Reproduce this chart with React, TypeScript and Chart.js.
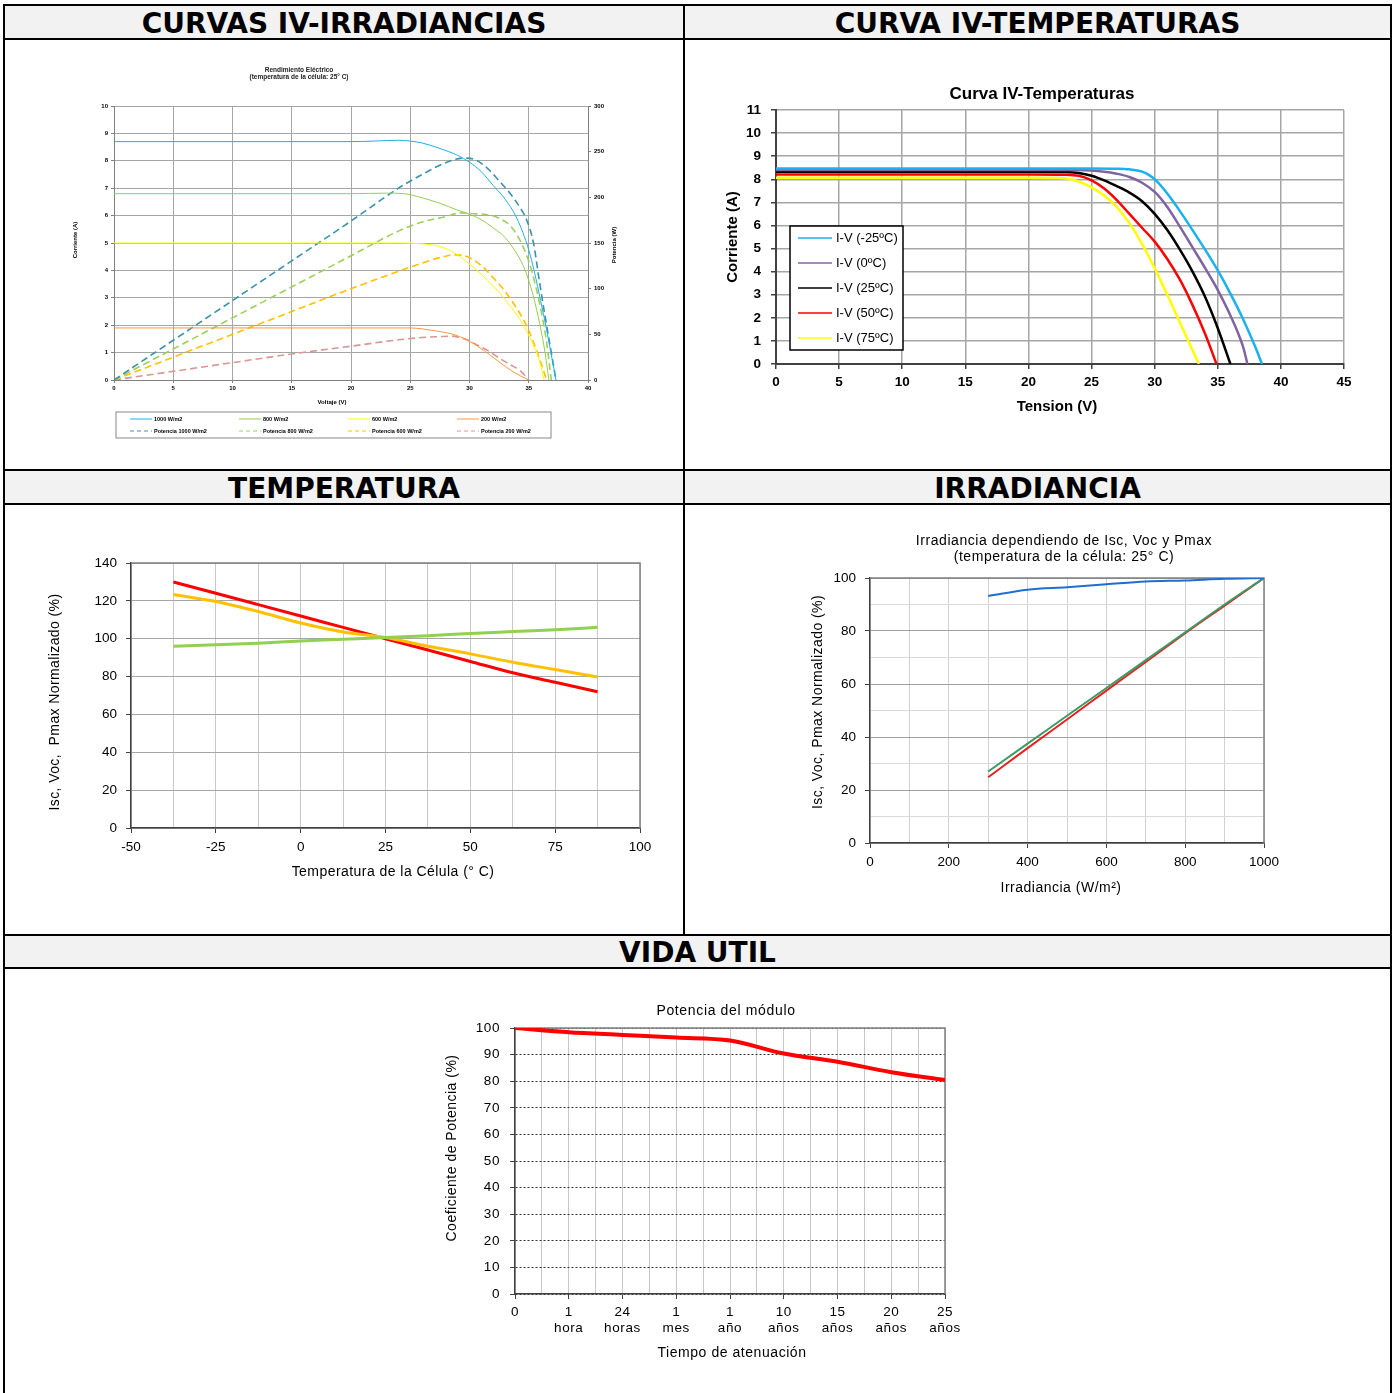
import React, { useEffect, useRef } from 'react';
import { Chart, registerables } from 'chart.js';
Chart.register(...registerables);

type P = [number, number];

// ===== Chart 1: Curvas IV-Irradiancias  (Voltaje V, Corriente A) / (Voltaje V, Potencia W)
const irrLabels = ['1000 W/m2', '800 W/m2', '600 W/m2', '200 W/m2', 'Potencia 1000 W/m2', 'Potencia 800 W/m2', 'Potencia 600 W/m2', 'Potencia 200 W/m2'];
const iv1000: P[] = [[0, 8.7], [5, 8.7], [10, 8.7], [15, 8.7], [20, 8.7], [22, 8.72], [24, 8.75], [25, 8.72], [26, 8.65], [27.5, 8.45], [29, 8.2], [30, 7.95], [31, 7.6], [32, 7.1], [33, 6.6], [34, 5.9], [35, 4.75], [35.5, 3.9], [36, 2.9], [36.5, 1.85], [37, 0.7], [37.3, 0]];
const iv800: P[] = [[0, 6.8], [10, 6.8], [20, 6.8], [23, 6.82], [24.5, 6.8], [26, 6.65], [27.5, 6.45], [29, 6.2], [30, 6.05], [31, 5.85], [32, 5.55], [33, 5.2], [34, 4.6], [34.7, 4.0], [35.3, 3.2], [35.8, 2.3], [36.3, 1.2], [36.7, 0]];
const iv600: P[] = [[0, 5], [10, 5], [20, 5], [24, 5], [26, 4.97], [27.5, 4.87], [28.5, 4.7], [29.5, 4.4], [30.5, 4.05], [31.5, 3.65], [32.5, 3.2], [33.5, 2.65], [34.5, 2.05], [35.2, 1.45], [35.9, 0.7], [36.3, 0]];
const iv200: P[] = [[0, 1.9], [10, 1.9], [20, 1.9], [25, 1.9], [27, 1.8], [28.5, 1.68], [29.8, 1.46], [30.8, 1.2], [31.7, 0.92], [32.6, 0.63], [33.5, 0.35], [34.3, 0.15], [35, 0]];
const pw1000: P[] = [[0, 0], [5, 43.5], [10, 87], [15, 130.5], [20, 174], [24, 210], [26, 225], [28, 238], [29.5, 243], [30.5, 241], [31.5, 232], [32.5, 218], [33.5, 203], [34.2, 190], [34.8, 176], [35.4, 150], [35.9, 108], [36.4, 68], [36.9, 30], [37.3, 0]];
const pw800: P[] = [[0, 0], [5, 34], [10, 68], [15, 102], [20, 136], [24, 163], [26, 173], [28, 179], [29.3, 183], [30.5, 182], [31.5, 181], [32.5, 177], [33.5, 168], [34.3, 152], [35, 130], [35.6, 102], [36.1, 72], [36.5, 42], [36.9, 0]];
const pw600: P[] = [[0, 0], [5, 25], [10, 50], [15, 75], [20, 100], [24, 119], [26, 128], [27.5, 134], [28.8, 137], [29.6, 136], [30.3, 132], [31.2, 123], [32, 112], [33, 97], [34, 78], [34.8, 60], [35.5, 38], [36, 20], [36.5, 0]];
const pw200: P[] = [[0, 0], [5, 9.5], [10, 19], [15, 28.5], [20, 37], [24, 44], [26, 46.5], [27.5, 47.5], [28.5, 48], [29.3, 46], [29.8, 44], [30.7, 38], [31.7, 31], [32.5, 24], [33.4, 17], [34.3, 10], [35, 0]];

// ===== Chart 2: Curva IV-Temperaturas (Tension V, Corriente A)
const tempLabels = ['I-V (-25ºC)', 'I-V (0ºC)', 'I-V (25ºC)', 'I-V (50ºC)', 'I-V (75ºC)'];
const ivTm25: P[] = [[0, 8.47], [10, 8.47], [20, 8.47], [25, 8.47], [27, 8.46], [28, 8.43], [29, 8.33], [29.5, 8.2], [30, 8.0], [30.5, 7.72], [31, 7.38], [32, 6.62], [33, 5.8], [34, 4.95], [35, 4.05], [36, 3.05], [37, 1.95], [38, 0.7], [38.5, 0]];
const ivT0: P[] = [[0, 8.4], [20, 8.4], [24, 8.4], [26, 8.33], [27, 8.24], [28, 8.1], [29, 7.85], [30, 7.45], [31, 6.8], [32, 5.95], [33, 5.05], [34, 4.15], [35, 3.2], [36, 2.1], [37, 0.75], [37.35, 0]];
const ivT25: P[] = [[0, 8.33], [20, 8.33], [23, 8.31], [24, 8.27], [25, 8.15], [26, 7.95], [27, 7.7], [28, 7.42], [29, 7.05], [30, 6.5], [31, 5.8], [32, 4.95], [33, 4.0], [34, 2.9], [35, 1.55], [36, 0]];
const ivT50: P[] = [[0, 8.21], [20, 8.21], [23, 8.2], [24, 8.15], [25, 7.95], [26, 7.6], [27, 7.1], [28, 6.5], [29, 5.9], [30, 5.3], [31, 4.55], [32, 3.65], [33, 2.55], [34, 1.3], [34.9, 0]];
const ivT75: P[] = [[0, 8.07], [20, 8.07], [22, 8.06], [23, 8.03], [24, 7.9], [25, 7.65], [26, 7.3], [27, 6.8], [28, 6.1], [29, 5.2], [30, 4.15], [31, 3.0], [32, 1.8], [33, 0.6], [33.5, 0]];

// ===== Chart 3: Temperatura (°C) vs Isc, Voc, Pmax normalizado (%)
const tempX = [-37.5, -25, -12.5, 0, 12.5, 25, 37.5, 50, 62.5, 75, 87.5];
const tempPmax = [130, 124, 118, 112, 106, 100, 94, 88, 82, 77, 72];
const tempVoc = [123.4, 119.7, 114.4, 108.3, 103.6, 100.6, 96, 92, 87.6, 83.7, 79.8];
const tempIsc = [96, 96.8, 97.6, 98.8, 99.7, 100.6, 101.6, 102.8, 103.8, 104.8, 106];

// ===== Chart 4: Irradiancia (W/m²) vs Isc, Voc, Pmax normalizado (%)
const irrX = [300, 400, 500, 600, 700, 800, 900, 1000];
const irrVoc = [93.2, 95.6, 96.5, 97.6, 98.7, 99.1, 99.7, 100];
const irrIsc = [27, 37.5, 48, 58.5, 69, 79.5, 90, 100];
const irrPmax = [24.8, 35.8, 46.6, 57.5, 68.3, 79.2, 89.6, 100];

// ===== Chart 5: Vida útil – Potencia del módulo (%)
const lifeLabels: (string | string[])[] = ['0', ['1', 'hora'], ['24', 'horas'], ['1', 'mes'], ['1', 'año'], ['10', 'años'], ['15', 'años'], ['20', 'años'], ['25', 'años']];
const lifeValues = [100, 98.4, 97.4, 96.4, 95.3, 90.4, 87.3, 83.4, 80.4];

const FAM = "'Liberation Sans', Arial, sans-serif";

// ---------- helpers ----------
function fitW(w: number) {
  return (s: any) => { s.width = w; s.paddingTop = 0; s.paddingBottom = 0; s.paddingLeft = 0; s.paddingRight = 0; };
}
function fitH(h: number) {
  return (s: any) => { s.height = h; s.paddingTop = 0; s.paddingBottom = 0; s.paddingLeft = 0; s.paddingRight = 0; };
}

const spacingPlugin = {
  id: 'spacing',
  beforeDraw(chart: any, _a: any, o: any) {
    if (o && o.ls) (chart.ctx as any).letterSpacing = o.ls;
  },
};

const textPlugin = {
  id: 'texts',
  afterDraw(chart: any, _a: any, opts: any) {
    const ctx = chart.ctx;
    for (const it of opts.items || []) {
      ctx.save();
      ctx.font = it.font;
      ctx.fillStyle = it.color || '#000';
      ctx.textAlign = it.align || 'center';
      ctx.textBaseline = 'middle';
      (ctx as any).letterSpacing = it.ls || '0px';
      ctx.translate(it.x, it.y);
      if (it.rot) ctx.rotate(it.rot);
      ctx.fillText(it.t, 0, 0);
      ctx.restore();
    }
  },
};

const framePlugin = {
  id: 'frame',
  beforeDatasetsDraw(chart: any, _a: any, o: any) {
    if (!o || !o.color) return;
    const { left, right, top, bottom } = chart.chartArea;
    const ctx = chart.ctx;
    ctx.save();
    ctx.strokeStyle = o.color;
    ctx.lineWidth = o.width || 1;
    ctx.beginPath();
    ctx.moveTo(left, top);
    ctx.lineTo(right, top);
    ctx.lineTo(right, bottom);
    ctx.stroke();
    ctx.restore();
  },
};

const boxLegendPlugin = {
  id: 'boxLegend',
  afterDraw(chart: any, _a: any, o: any) {
    if (!o || !o.w) return;
    const ctx = chart.ctx;
    ctx.save();
    (ctx as any).letterSpacing = '0px';
    ctx.fillStyle = '#fff';
    ctx.fillRect(o.x, o.y, o.w, o.h);
    ctx.strokeStyle = o.border;
    ctx.lineWidth = o.borderWidth;
    ctx.strokeRect(o.x, o.y, o.w, o.h);
    chart.data.datasets.forEach((ds: any, i: number) => {
      const col = i % o.cols;
      const row = Math.floor(i / o.cols);
      const lx = o.x + o.padX + col * o.colW;
      const ly = o.y + o.padY + row * o.rowH;
      ctx.strokeStyle = ds.borderColor;
      ctx.lineWidth = o.lineWidth;
      ctx.setLineDash(ds.borderDash && ds.borderDash.length ? o.dash : []);
      ctx.beginPath();
      ctx.moveTo(lx, ly);
      ctx.lineTo(lx + o.lineLen, ly);
      ctx.stroke();
      ctx.setLineDash([]);
      ctx.fillStyle = '#000';
      ctx.font = o.font;
      ctx.textAlign = 'left';
      ctx.textBaseline = 'middle';
      ctx.fillText(ds.label, lx + o.lineLen + o.gap, ly);
    });
    ctx.restore();
  },
};

const ROT = -Math.PI / 2;

function pts(a: P[]) { return a.map(([x, y]) => ({ x, y })); }
function zipXY(xs: number[], ys: number[]) { return xs.map((x, i) => ({ x, y: ys[i] })); }

// ---------- configs ----------
function cfgIrradiance(): any {
  const tf = { family: FAM, size: 6, weight: 'bold' };
  const line = (label: string, d: P[], color: string, dashed: boolean, axis: string) => ({
    label, data: pts(d), borderColor: color, borderWidth: dashed ? 1.6 : 1, borderDash: dashed ? [7, 4] : [],
    pointRadius: 0, fill: false, yAxisID: axis, cubicInterpolationMode: 'monotone',
  });
  return {
    type: 'line',
    data: {
      datasets: [
        line(irrLabels[0], iv1000, '#1cb0e6', false, 'y'),
        line(irrLabels[1], iv800, '#92d050', false, 'y'),
        line(irrLabels[2], iv600, '#ffff00', false, 'y'),
        line(irrLabels[3], iv200, '#f79646', false, 'y'),
        line(irrLabels[4], pw1000, '#3a93ad', true, 'y1'),
        line(irrLabels[5], pw800, '#9cd05a', true, 'y1'),
        line(irrLabels[6], pw600, '#ffc000', true, 'y1'),
        line(irrLabels[7], pw200, '#d99694', true, 'y1'),
      ],
    },
    options: {
      responsive: false, animation: false, devicePixelRatio: 1,
      layout: { padding: { left: 0, top: 65, right: 0, bottom: 0 } },
      plugins: {
        legend: { display: false }, tooltip: { enabled: false },
        texts: { items: [
          { t: 'Rendimiento Eléctrico', x: 294, y: 29, font: `bold 6.5px ${FAM}`, color: '#222' },
          { t: '(temperatura de la célula: 25° C)', x: 294, y: 36, font: `bold 6.5px ${FAM}`, color: '#222' },
          { t: 'Corriente (A)', x: 70, y: 199, rot: ROT, font: `bold 6px ${FAM}` },
          { t: 'Potencia (W)', x: 609, y: 204, rot: ROT, font: `bold 6px ${FAM}` },
          { t: 'Voltaje (V)', x: 327, y: 361, font: `bold 6px ${FAM}` },
        ] },
        boxLegend: { x: 111, y: 371, w: 435, h: 26, border: '#888', borderWidth: 1, cols: 4, padX: 14, padY: 7, colW: 109, rowH: 12, lineLen: 22, gap: 2, lineWidth: 1, dash: [4, 3], font: `bold 5.5px ${FAM}` },
      },
      scales: {
        x: {
          type: 'linear', min: 0, max: 40,
          ticks: { stepSize: 5, font: tf, color: '#000', padding: 2, autoSkip: false, maxRotation: 0 },
          grid: { color: '#a6a6a6', lineWidth: 1, tickLength: 3, tickColor: '#808080' },
          border: { color: '#808080', width: 1 },
          afterFit: fitH(89),
        },
        y: {
          position: 'left', min: 0, max: 10,
          ticks: { stepSize: 1, font: tf, color: '#000', padding: 3, autoSkip: false },
          grid: { color: '#a6a6a6', lineWidth: 1, tickLength: 3, tickColor: '#808080' },
          border: { color: '#808080', width: 1 },
          afterFit: fitW(109),
        },
        y1: {
          position: 'right', min: 0, max: 300,
          ticks: { stepSize: 50, font: tf, color: '#000', padding: 3, autoSkip: false },
          grid: { drawOnChartArea: false, tickLength: 3, tickColor: '#808080' },
          border: { color: '#808080', width: 1 },
          afterFit: fitW(95),
        },
      },
    },
    plugins: [textPlugin, boxLegendPlugin],
  };
}

function cfgTemperatures(): any {
  const tf = { family: FAM, size: 13.5, weight: 'bold' };
  const line = (label: string, d: P[], color: string) => ({
    label, data: pts(d), borderColor: color, borderWidth: 2.5, pointRadius: 0, fill: false, cubicInterpolationMode: 'monotone',
  });
  return {
    type: 'line',
    data: {
      datasets: [
        line(tempLabels[0], ivTm25, '#1ab2ee'),
        line(tempLabels[1], ivT0, '#8064a2'),
        line(tempLabels[2], ivT25, '#000000'),
        line(tempLabels[3], ivT50, '#ff0000'),
        line(tempLabels[4], ivT75, '#ffff00'),
      ],
    },
    options: {
      responsive: false, animation: false, devicePixelRatio: 1,
      layout: { padding: { left: 0, top: 69, right: 46, bottom: 0 } },
      plugins: {
        legend: { display: false }, tooltip: { enabled: false },
        texts: { items: [
          { t: 'Curva IV-Temperaturas', x: 356, y: 53, font: `bold 17px ${FAM}` },
          { t: 'Corriente (A)', x: 47, y: 196, rot: ROT, font: `bold 15px ${FAM}` },
          { t: 'Tension (V)', x: 371, y: 366, font: `bold 15px ${FAM}` },
        ] },
        boxLegend: { x: 104, y: 185, w: 113, h: 124, border: '#000', borderWidth: 1.5, cols: 1, padX: 8, padY: 12, colW: 0, rowH: 25, lineLen: 34, gap: 4, lineWidth: 1.5, dash: [], font: `13px ${FAM}` },
      },
      scales: {
        x: {
          type: 'linear', min: 0, max: 45,
          ticks: { stepSize: 5, font: tf, color: '#000', padding: 5, autoSkip: false, maxRotation: 0 },
          grid: { color: '#a6a6a6', lineWidth: 1.5, tickLength: 5, tickColor: '#404040' },
          border: { color: '#404040', width: 2 },
          afterFit: fitH(105),
        },
        y: {
          min: 0, max: 11,
          ticks: { stepSize: 1, font: tf, color: '#000', padding: 10, autoSkip: false },
          grid: { color: '#a6a6a6', lineWidth: 1.5, tickLength: 5, tickColor: '#404040' },
          border: { color: '#404040', width: 2 },
          afterFit: fitW(90),
        },
      },
    },
    plugins: [textPlugin, boxLegendPlugin],
  };
}

function cfgTempNorm(): any {
  const tf = { family: FAM, size: 13.5 };
  const line = (d: any[], color: string) => ({ data: d, borderColor: color, borderWidth: 3, pointRadius: 0, fill: false, cubicInterpolationMode: 'monotone' });
  return {
    type: 'line',
    data: {
      datasets: [
        line(zipXY(tempX, tempIsc), '#92d050'),
        line(zipXY(tempX, tempVoc), '#ffc000'),
        line(zipXY(tempX, tempPmax), '#ff0000'),
      ],
    },
    options: {
      responsive: false, animation: false, devicePixelRatio: 1,
      layout: { padding: { left: 0, top: 57, right: 43, bottom: 0 } },
      plugins: {
        legend: { display: false }, tooltip: { enabled: false },
        texts: { items: [
          { t: 'Isc, Voc,  Pmax Normalizado (%)', x: 50, y: 196, rot: ROT, font: `14px ${FAM}`, ls: '0.4px' },
          { t: 'Temperatura de la Célula (° C)', x: 388, y: 366, font: `14px ${FAM}`, ls: '0.45px' },
        ] },
        frame: { color: '#808080', width: 1.5 },
      },
      scales: {
        x: {
          type: 'linear', min: -50, max: 100,
          ticks: { stepSize: 12.5, font: tf, color: '#000', padding: 6, autoSkip: false, maxRotation: 0, callback: (v: number) => (v % 25 === 0 ? String(v) : '') },
          grid: { color: '#c8c8c8', lineWidth: 1, tickLength: 5, tickColor: (c: any) => (c.tick && c.tick.value % 25 === 0 ? '#404040' : 'rgba(0,0,0,0)') },
          border: { color: '#404040', width: 1.5 },
          afterFit: fitH(106),
        },
        y: {
          min: 0, max: 140,
          ticks: { stepSize: 20, font: tf, color: '#000', padding: 9, autoSkip: false },
          grid: { color: '#a6a6a6', lineWidth: 1, tickLength: 5, tickColor: '#404040' },
          border: { color: '#404040', width: 1.5 },
          afterFit: fitW(126),
        },
      },
    },
    plugins: [textPlugin, framePlugin],
  };
}

function cfgIrrNorm(): any {
  const tf = { family: FAM, size: 13.5 };
  const line = (d: any[], color: string) => ({ data: d, borderColor: color, borderWidth: 2, pointRadius: 0, fill: false, cubicInterpolationMode: 'monotone' });
  return {
    type: 'line',
    data: {
      datasets: [
        line(zipXY(irrX, irrVoc), '#1f6fd0'),
        line(zipXY(irrX, irrIsc), '#3c9a64'),
        line(zipXY(irrX, irrPmax), '#e8201e'),
      ],
    },
    options: {
      responsive: false, animation: false, devicePixelRatio: 1,
      layout: { padding: { left: 0, top: 72, right: 126, bottom: 0 } },
      plugins: {
        legend: { display: false }, tooltip: { enabled: false },
        texts: { items: [
          { t: 'Irradiancia dependiendo de Isc, Voc y Pmax', x: 378, y: 35, font: `14px ${FAM}`, ls: '0.55px' },
          { t: '(temperatura de la célula: 25° C)', x: 378, y: 51, font: `14px ${FAM}`, ls: '0.55px' },
          { t: 'Isc, Voc, Pmax Normalizado (%)', x: 132, y: 196, rot: ROT, font: `14px ${FAM}`, ls: '0.45px' },
          { t: 'Irradiancia (W/m²)', x: 375, y: 382, font: `14px ${FAM}`, ls: '0.5px' },
        ] },
        frame: { color: '#808080', width: 1.5 },
      },
      scales: {
        x: {
          type: 'linear', min: 0, max: 1000,
          ticks: { stepSize: 100, font: tf, color: '#000', padding: 6, autoSkip: false, maxRotation: 0, callback: (v: number) => (v % 200 === 0 ? String(v) : '') },
          grid: { color: '#d0d0d0', lineWidth: 1, tickLength: 5, tickColor: (c: any) => (c.tick && c.tick.value % 200 === 0 ? '#404040' : 'rgba(0,0,0,0)') },
          border: { color: '#404040', width: 1.5 },
          afterFit: fitH(91),
        },
        y: {
          min: 0, max: 100,
          ticks: { stepSize: 10, font: tf, color: '#000', padding: 9, autoSkip: false, callback: (v: number) => (v % 20 === 0 ? String(v) : '') },
          grid: {
            color: (c: any) => (c.tick && c.tick.value % 20 === 0 ? '#a0a0a0' : '#dadada'), lineWidth: 1, tickLength: 5,
            tickColor: (c: any) => (c.tick && c.tick.value % 20 === 0 ? '#404040' : 'rgba(0,0,0,0)'),
          },
          border: { color: '#404040', width: 1.5 },
          afterFit: fitW(184),
        },
      },
    },
    plugins: [textPlugin, framePlugin],
  };
}

function cfgLife(): any {
  const tf = { family: FAM, size: 13.5, lineHeight: 1.2 };
  return {
    type: 'line',
    data: {
      datasets: [
        { data: lifeValues.map((v, i) => ({ x: i, y: v })), borderColor: '#ff0000', borderWidth: 4, pointRadius: 0, fill: false, cubicInterpolationMode: 'monotone' },
      ],
    },
    options: {
      responsive: false, animation: false, devicePixelRatio: 1,
      layout: { padding: { left: 0, top: 58, right: 445, bottom: 0 } },
      plugins: {
        legend: { display: false }, tooltip: { enabled: false },
        spacing: { ls: '0.6px' },
        texts: { items: [
          { t: 'Potencia del módulo', x: 721, y: 41, font: `14px ${FAM}`, ls: '0.65px' },
          { t: 'Coeficiente de Potencia (%)', x: 447, y: 178, rot: ROT, font: `14px ${FAM}`, ls: '0.5px' },
          { t: 'Tiempo de atenuación', x: 727, y: 383, font: `14px ${FAM}`, ls: '0.55px' },
        ] },
        frame: { color: '#808080', width: 1.5 },
      },
      scales: {
        x: {
          type: 'linear', min: 0, max: lifeLabels.length - 1,
          ticks: { stepSize: 0.5, font: tf, color: '#000', padding: 5, autoSkip: false, maxRotation: 0, callback: (v: number) => (Number.isInteger(v) ? lifeLabels[v] : '') },
          grid: { color: '#c8c8c8', lineWidth: 1, tickLength: 5, tickColor: (c: any) => (c.tick && Number.isInteger(c.tick.value) ? '#404040' : 'rgba(0,0,0,0)') },
          border: { color: '#404040', width: 1.5 },
          afterFit: fitH(99),
        },
        y: {
          min: 0, max: 100,
          ticks: { stepSize: 10, font: tf, color: '#000', padding: 10, autoSkip: false },
          grid: { color: '#333', lineWidth: 1, tickLength: 5, tickColor: '#404040' },
          border: { color: '#404040', width: 1.5, dash: [2, 2] },
          afterFit: fitW(510),
        },
      },
    },
    plugins: [spacingPlugin, textPlugin, framePlugin],
  };
}

function ChartBox({ x, y, w, h, make }: { x: number; y: number; w: number; h: number; make: () => any }) {
  const ref = useRef<HTMLCanvasElement>(null);
  useEffect(() => {
    const c = new Chart(ref.current as HTMLCanvasElement, make());
    return () => c.destroy();
  }, []);
  return (
    <div style={{ position: 'absolute', left: x, top: y, width: w, height: h }}>
      <canvas ref={ref} width={w} height={h} style={{ width: w, height: h, display: 'block' }} />
    </div>
  );
}

const line = (l: number, t: number, w: number, h: number) => (
  <div style={{ position: 'absolute', left: l, top: t, width: w, height: h, background: '#000' }} />
);

function Header({ l, t, w, h, text }: { l: number; t: number; w: number; h: number; text: string }) {
  return (
    <div style={{ position: 'absolute', left: l, top: t, width: w, height: h, boxSizing: 'border-box', paddingTop: 3, background: '#f2f2f2', display: 'flex', alignItems: 'center', justifyContent: 'center', fontFamily: "'DejaVu Sans', Verdana, sans-serif", fontWeight: 'bold', fontSize: 28, color: '#000', lineHeight: 1 }}>
      {text}
    </div>
  );
}

export default function App() {
  return (
    <div style={{ position: 'absolute', left: 0, top: 0, width: 1396, height: 1393, background: '#fff', overflow: 'hidden' }}>
      <Header l={5} t={6} w={678} h={32} text="CURVAS IV-IRRADIANCIAS" />
      <Header l={685} t={6} w={705} h={32} text="CURVA IV-TEMPERATURAS" />
      <Header l={5} t={471} w={678} h={32} text="TEMPERATURA" />
      <Header l={685} t={471} w={705} h={32} text="IRRADIANCIA" />
      <Header l={5} t={936} w={1385} h={31} text="VIDA UTIL" />

      <ChartBox x={5} y={41} w={678} h={428} make={cfgIrradiance} />
      <ChartBox x={686} y={41} w={704} h={428} make={cfgTemperatures} />
      <ChartBox x={5} y={506} w={678} h={428} make={cfgTempNorm} />
      <ChartBox x={686} y={506} w={704} h={428} make={cfgIrrNorm} />
      <ChartBox x={5} y={970} w={1385} h={423} make={cfgLife} />

      {line(3, 4, 1389, 2)}
      {line(3, 38, 1389, 2)}
      {line(3, 469, 1389, 2)}
      {line(3, 503, 1389, 2)}
      {line(3, 934, 1389, 2)}
      {line(3, 967, 1389, 2)}
      {line(3, 4, 2, 1392)}
      {line(1390, 4, 2, 1392)}
      {line(683, 4, 2, 932)}
    </div>
  );
}
